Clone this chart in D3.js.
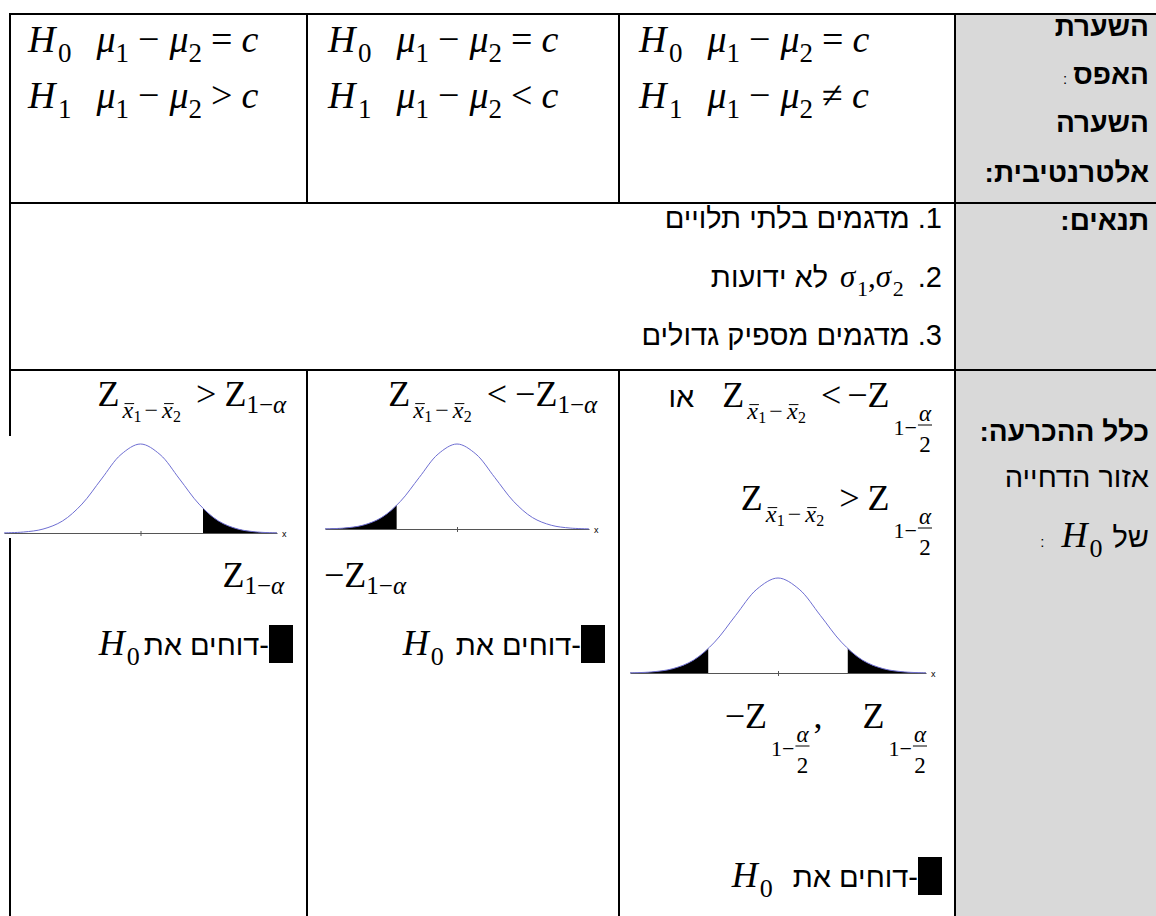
<!DOCTYPE html>
<html>
<head>
<meta charset="utf-8">
<script src="https://cdn.jsdelivr.net/npm/d3@7"></script>
<style>
  body { margin: 0; background: #fff; }
  svg { display: block; }
</style>
</head>
<body>
<div id="chart"></div>
<script>
const width = 1156;
const height = 916;

// row header texts (right gray column)
const hypothesisHeader = ["השערת", "האפס", "השערה", "אלטרנטיבית:"];
const conditionsHeader = ["תנאים:"];
const decisionHeader = ["כלל ההכרעה:", "אזור הדחייה", "של"];

// row 1: relation of the alternative hypothesis per column
const nullSign = "=";
const altSigns = [">", "<", "≠"];

// row 2: conditions
const conditions = ["1. מדגמים בלתי תלויים", "לא ידועות", "3. מדגמים מספיק גדולים"];
const conditionNumber2 = ".2";

// row 3 texts
const rejectLabel = "-דוחים את";
const orLabel = "או";

// normal curve (relative height)
const zGrid = [-3.5, -3, -2.5, -2, -1.5, -1, -0.5, 0, 0.5, 1, 1.5, 2, 2.5, 3, 3.5];
const density = [0.002, 0.011, 0.044, 0.135, 0.325, 0.607, 0.882, 1, 0.882, 0.607, 0.325, 0.135, 0.044, 0.011, 0.002];
const tails = [
  [[1.6, 3.5]],
  [[-3.5, -1.6]],
  [[-3.5, -1.65], [1.65, 3.5]]
];

const SERIF = "'Liberation Serif','Times New Roman',serif";
const SANS = "'Liberation Sans',Arial,'DejaVu Sans',sans-serif";

const svg = d3.select("#chart")
  .append("svg")
  .attr("width", width)
  .attr("height", height);

// table frame
const colX = [10, 307, 619, 955, 1160];
const rowY = [14, 203, 370, 920];

svg.append("rect")
  .attr("x", colX[3]).attr("y", rowY[0])
  .attr("width", colX[4] - colX[3]).attr("height", rowY[3] - rowY[0])
  .attr("fill", "#d9d9d9");

const lines = svg.append("g").attr("stroke", "#000").attr("stroke-width", 2);
rowY.slice(0, 3).forEach(y => {
  lines.append("line").attr("x1", colX[0] - 1).attr("x2", colX[4]).attr("y1", y).attr("y2", y);
});
[colX[0], colX[3]].forEach(x => {
  lines.append("line").attr("x1", x).attr("x2", x).attr("y1", rowY[0]).attr("y2", rowY[3]);
});
[colX[1], colX[2]].forEach(x => {
  lines.append("line").attr("x1", x).attr("x2", x).attr("y1", rowY[0]).attr("y2", rowY[1]);
  lines.append("line").attr("x1", x).attr("x2", x).attr("y1", rowY[2]).attr("y2", rowY[3]);
});

// ---- small layout engine for formula-like runs ----
const it = (s, size, dy = 0, o = {}) => ({ s, size, dy, italic: true, ...o });
const rm = (s, size, dy = 0, o = {}) => ({ s, size, dy, ...o });
const heb = (s, size, o = {}) => ({ s, size, dy: 0, heb: true, ...o });
const gap = n => ({ gap: n });
const frac = (num, den, size, bar, nDy, dDy) => ({ frac: [num, den], size, bar, nDy, dDy });
const box = (w, h, top) => ({ box: [w, h, top] });

function expr(parent, items, x, y, anchor = "start") {
  const g = parent.append("g");
  let cx = 0;
  for (const d of items) {
    if (d.gap != null) { cx += d.gap; continue; }
    if (d.box) {
      g.append("rect").attr("x", cx).attr("y", d.box[2])
        .attr("width", d.box[0]).attr("height", d.box[1]).attr("fill", "#000");
      cx += d.box[0];
      continue;
    }
    if (d.frac) {
      const num = g.append("text").attr("font-family", SERIF).attr("font-style", "italic")
        .attr("font-size", d.size).attr("text-anchor", "middle").attr("y", d.nDy).text(d.frac[0]);
      const den = g.append("text").attr("font-family", SERIF)
        .attr("font-size", d.size).attr("text-anchor", "middle").attr("y", d.dDy).text(d.frac[1]);
      const w = Math.max(num.node().getComputedTextLength(), den.node().getComputedTextLength()) + 4;
      num.attr("x", cx + w / 2);
      den.attr("x", cx + w / 2);
      g.append("line").attr("x1", cx + 1).attr("x2", cx + w - 1)
        .attr("y1", d.bar).attr("y2", d.bar).attr("stroke", "#000").attr("stroke-width", 1);
      cx += w;
      continue;
    }
    const t = g.append("text")
      .attr("font-family", d.heb || d.sans ? SANS : SERIF)
      .attr("font-size", d.size)
      .attr("font-style", d.italic ? "italic" : "normal")
      .attr("font-weight", d.bold ? "bold" : "normal")
      .attr("x", 0)
      .attr("y", d.dy)
      .text(d.s);
    if (d.heb) t.attr("direction", "rtl");
    const bb = t.node().getBBox();
    t.attr("x", cx - bb.x);
    if (d.over) {
      g.append("line")
        .attr("x1", cx + bb.width * 0.25).attr("x2", cx + bb.width * 1.05)
        .attr("y1", d.dy - d.size * 0.6).attr("y2", d.dy - d.size * 0.6)
        .attr("stroke", "#000").attr("stroke-width", 1);
    }
    cx += bb.width;
  }
  const dx = anchor === "end" ? x - cx : x;
  g.attr("transform", `translate(${dx},${y})`);
  return cx;
}

// ---- row 1: hypotheses ----
const M1 = 38, S1 = 27;
const hypStart = [27, 327, 638];
const diff = [it("μ", M1), rm("1", S1, 10), gap(9), rm("−", M1), gap(9), it("μ", M1), rm("2", S1, 10), gap(9)];
altSigns.forEach((sign, i) => {
  expr(svg, [it("H", M1), rm("0", S1, 10), gap(24), ...diff, rm(nullSign, M1), gap(9), it("c", M1)], hypStart[i], 52);
  expr(svg, [it("H", M1), rm("1", S1, 10), gap(24), ...diff, rm(sign, M1), gap(9), it("c", M1)], hypStart[i], 108);
});

// ---- row 2: conditions ----
const HS = 29;
expr(svg, [heb(conditions[0], HS)], 942, 228, "end");
expr(svg, [heb(conditions[1], HS), gap(12), it("σ", 31), rm("1", 22, 9), rm(",", 31),
  it("σ", 31), rm("2", 22, 9), gap(14), rm(conditionNumber2, HS, 0, { sans: true })], 942, 287, "end");
expr(svg, [heb(conditions[2], HS)], 942, 345, "end");

// ---- gray header column ----
const HB = 28;
expr(svg, [heb(hypothesisHeader[0], HB, { bold: true })], 1149, 36, "end");
expr(svg, [rm(":", 15, 0, { sans: true }), gap(6), heb(hypothesisHeader[1], HB, { bold: true })], 1149, 84, "end");
expr(svg, [heb(hypothesisHeader[2], HB, { bold: true })], 1149, 132, "end");
expr(svg, [heb(hypothesisHeader[3], HB, { bold: true })], 1149, 182, "end");
expr(svg, [heb(conditionsHeader[0], HB, { bold: true })], 1149, 230, "end");
expr(svg, [heb(decisionHeader[0], HB, { bold: true })], 1149, 441, "end");
expr(svg, [heb(decisionHeader[1], HS)], 1149, 487, "end");
expr(svg, [rm(":", 15, 0, { sans: true }), gap(16), it("H", 36), rm("0", 26, 10), gap(10), heb(decisionHeader[2], HS)], 1149, 547, "end");

// ---- row 3: decision rules ----
const M = 36;
const zx = [rm("Z", M), gap(2), it("x", 24, 12, { over: true }), rm("1", 16, 16), gap(3), rm("−", 24, 12), gap(3),
  it("x", 24, 12, { over: true }), rm("2", 16, 16)];
const z1a = [rm("Z", M), rm("1", 25, 7), rm("−", 25, 7), it("α", 25, 7)];
const zHalf = [rm("Z", M), gap(4), rm("1", 22, 28), rm("−", 22, 28), frac("α", "2", 23, 18, 14, 45)];

expr(svg, [...zx, gap(15), rm(">", M), gap(8), ...z1a], 287, 406, "end");
expr(svg, [...zx, gap(15), rm("<", M), gap(8), rm("−", M), ...z1a], 598, 406, "end");
expr(svg, [heb(orLabel, HS), gap(28), ...zx, gap(15), rm("<", M), gap(6), rm("−", M), ...zHalf], 933, 407, "end");
expr(svg, [...zx, gap(15), rm(">", M), gap(8), ...zHalf], 933, 510, "end");

expr(svg, z1a, 285, 587, "end");
expr(svg, [rm("−", M), ...z1a], 324, 587);
expr(svg, [rm("−", M), ...zHalf, gap(3), rm(",", M), gap(40), ...zHalf], 928, 728, "end");

const reject = g => [it("H", 36), rm("0", 26, 10), gap(g), heb(rejectLabel, HS), box(24, 38, -30)];
expr(svg, reject(4), 293, 655, "end");
expr(svg, reject(12), 605, 655, "end");
expr(svg, reject(20), 942, 887, "end");

// ---- normal curve pictures ----
const plots = [
  { x0: 4, x1: 277, base: 533, peak: 444, bg: [0, 436, 296, 102] },
  { x0: 325, x1: 589, base: 529, peak: 444, bg: [318, 438, 288, 96] },
  { x0: 630, x1: 926, base: 673, peak: 578, bg: [624, 568, 322, 112] }
];
const pts = zGrid.map((z, i) => ({ z, p: density[i] }));

plots.forEach((pl, k) => {
  const g = svg.append("g");
  g.append("rect").attr("x", pl.bg[0]).attr("y", pl.bg[1])
    .attr("width", pl.bg[2]).attr("height", pl.bg[3]).attr("fill", "#fff");

  const x = d3.scaleLinear().domain([-3.5, 3.5]).range([pl.x0, pl.x1]);
  const y = d3.scaleLinear().domain([0, 1]).range([pl.base, pl.peak]);

  g.append("g")
    .attr("transform", `translate(0,${pl.base})`)
    .call(d3.axisBottom(x).tickValues([0]).tickSizeInner(3).tickSizeOuter(0).tickFormat(""))
    .call(a => a.select(".domain").attr("stroke", "#555"))
    .call(a => a.selectAll(".tick line").attr("stroke", "#555").attr("y1", -2));

  const area = d3.area().x(d => x(d.z)).y0(pl.base).y1(d => y(d.p)).curve(d3.curveCatmullRom);
  tails[k].forEach((t, j) => {
    const id = `clip-${k}-${j}`;
    g.append("clipPath").attr("id", id)
      .append("rect").attr("x", x(t[0])).attr("y", pl.peak - 5)
      .attr("width", x(t[1]) - x(t[0])).attr("height", pl.base - pl.peak + 6);
    g.append("path").attr("d", area(pts)).attr("fill", "#000").attr("clip-path", `url(#${id})`);
  });

  g.append("path")
    .attr("d", d3.line().x(d => x(d.z)).y(d => y(d.p)).curve(d3.curveCatmullRom)(pts))
    .attr("fill", "none")
    .attr("stroke", "#6e6ed2")
    .attr("stroke-width", 1);

  g.append("text")
    .attr("x", pl.x1 + 5).attr("y", pl.base + 4)
    .attr("font-family", SANS).attr("font-size", 9)
    .text("x");
});
</script>
</body>
</html>
